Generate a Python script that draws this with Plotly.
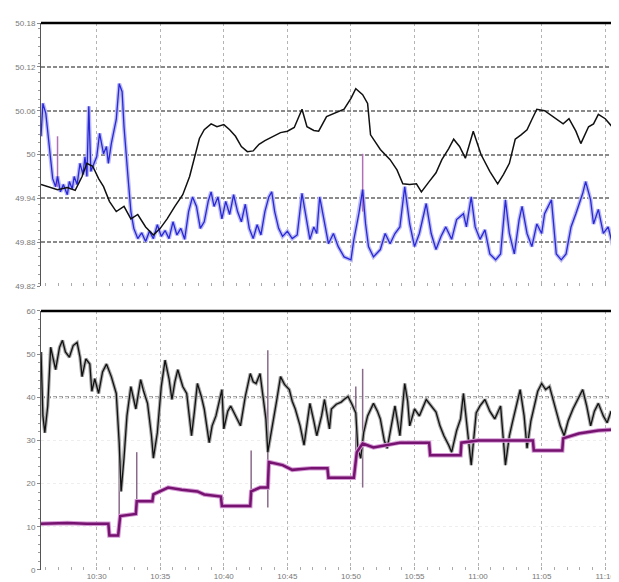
import plotly.graph_objects as go
import pandas as pd

# ---------------- data (minutes after 10:00, values) ----------------
top_black_t = [25.62, 26.15, 26.92, 27.69, 28.31, 28.85, 29.23, 29.69, 30.15, 30.54, 31.00, 31.54, 32.15, 32.69,
               33.23, 33.85, 34.46, 35.00, 35.54, 36.15, 36.77, 37.31, 37.69, 38.08, 38.46, 39.00, 39.46, 40.00,
               40.46, 40.92, 41.38, 41.85, 42.31, 42.77, 43.23, 43.85, 44.46, 45.00, 45.54, 46.15, 46.54, 47.08,
               47.46, 48.08, 48.69, 49.46, 50.00, 50.38, 50.92, 51.31, 51.54, 52.31, 53.08, 53.62, 54.08, 54.62,
               55.15, 55.54, 56.15, 56.69, 57.15, 57.69, 58.08, 58.54, 59.00, 59.62, 60.23, 60.92, 61.54, 62.00,
               62.46, 62.92, 63.38, 63.85, 64.23, 64.62, 65.23, 65.92, 66.31, 66.69, 67.15, 67.69, 68.08, 68.69,
               69.08, 69.46, 70.00, 70.54, 70.69]
top_black_v = [49.959, 49.956, 49.952, 49.955, 49.951, 49.970, 49.988, 49.984, 49.967, 49.956, 49.936, 49.922,
               49.929, 49.912, 49.918, 49.901, 49.890, 49.899, 49.912, 49.929, 49.945, 49.970, 49.997, 50.022,
               50.034, 50.042, 50.038, 50.041, 50.034, 50.025, 50.011, 50.004, 50.005, 50.014, 50.019, 50.025,
               50.030, 50.032, 50.037, 50.062, 50.038, 50.033, 50.032, 50.052, 50.056, 50.062, 50.077, 50.090,
               50.082, 50.070, 50.027, 50.007, 49.993, 49.979, 49.960, 49.959, 49.960, 49.949, 49.963, 49.975,
               49.993, 50.008, 50.021, 50.011, 49.995, 50.032, 50.000, 49.977, 49.960, 49.973, 49.988, 50.021,
               50.027, 50.034, 50.048, 50.062, 50.060, 50.052, 50.047, 50.042, 50.049, 50.032, 50.015, 50.038,
               50.042, 50.055, 50.049, 50.038, 50.042]

top_blue_t = [25.62, 25.77, 26.00, 26.15, 26.31, 26.54, 26.77, 26.92, 27.15, 27.38, 27.69, 27.85, 28.08, 28.23,
              28.46, 28.69, 28.92, 29.08, 29.23, 29.38, 29.54, 29.77, 30.00, 30.23, 30.54, 30.77, 30.92, 31.15,
              31.38, 31.54, 31.77, 32.00, 32.15, 32.31, 32.46, 32.69, 32.92, 33.23, 33.54, 33.85, 34.15, 34.46,
              34.77, 35.08, 35.38, 35.69, 36.00, 36.31, 36.62, 36.92, 37.23, 37.54, 37.85, 38.15, 38.46, 38.77,
              39.00, 39.23, 39.54, 39.85, 40.15, 40.46, 40.77, 41.08, 41.38, 41.69, 42.00, 42.31, 42.62, 42.92,
              43.23, 43.54, 43.77, 44.00, 44.31, 44.62, 45.00, 45.38, 45.77, 46.15, 46.38, 46.77, 47.08, 47.31,
              47.54, 47.85, 48.23, 48.62, 49.00, 49.46, 50.00, 50.23, 50.62, 50.92, 51.15, 51.38, 51.77, 52.31,
              52.69, 53.08, 53.46, 53.85, 54.23, 54.62, 55.00, 55.38, 55.92, 56.31, 56.69, 57.08, 57.46, 57.92,
              58.31, 58.85, 59.08, 59.46, 59.77, 60.15, 60.54, 60.92, 61.38, 61.77, 62.15, 62.46, 62.85, 63.23,
              63.46, 63.85, 64.23, 64.62, 65.00, 65.23, 65.77, 66.15, 66.54, 66.92, 67.31, 67.69, 68.23, 68.46,
              68.85, 69.08, 69.46, 69.85, 70.23, 70.62, 70.69]
top_blue_v = [50.025, 50.070, 50.056, 50.032, 50.007, 49.967, 49.956, 49.970, 49.949, 49.959, 49.945, 49.963,
              49.953, 49.970, 49.959, 49.988, 49.973, 49.997, 49.970, 50.066, 49.977, 49.986, 49.997, 50.029,
              50.001, 50.011, 49.988, 50.015, 50.032, 50.048, 50.097, 50.086, 50.038, 49.997, 49.970, 49.922,
              49.899, 49.885, 49.893, 49.881, 49.895, 49.885, 49.904, 49.888, 49.896, 49.885, 49.908, 49.890,
              49.899, 49.884, 49.922, 49.942, 49.929, 49.899, 49.908, 49.936, 49.949, 49.929, 49.942, 49.912,
              49.936, 49.918, 49.945, 49.922, 49.908, 49.932, 49.899, 49.885, 49.904, 49.890, 49.922, 49.942,
              49.949, 49.922, 49.899, 49.888, 49.895, 49.885, 49.890, 49.947, 49.925, 49.884, 49.901, 49.892,
              49.942, 49.911, 49.878, 49.892, 49.874, 49.860, 49.856, 49.884, 49.919, 49.952, 49.905, 49.874,
              49.860, 49.870, 49.892, 49.878, 49.892, 49.901, 49.956, 49.905, 49.874, 49.892, 49.933, 49.892,
              49.870, 49.888, 49.901, 49.884, 49.911, 49.919, 49.901, 49.942, 49.901, 49.884, 49.897, 49.864,
              49.856, 49.864, 49.938, 49.892, 49.864, 49.911, 49.929, 49.892, 49.874, 49.905, 49.892, 49.919,
              49.938, 49.864, 49.856, 49.864, 49.901, 49.919, 49.947, 49.963, 49.938, 49.905, 49.925, 49.892,
              49.901, 49.874, 49.884]

top_spike_t = [26.92, 26.92, None, 50.92, 50.92]
top_spike_v = [49.956, 50.025, None, 49.922, 50.001]

bot_black_t = [25.62, 25.77, 25.92, 26.15, 26.38, 26.62, 26.77, 27.08, 27.31, 27.54, 27.85, 28.15, 28.46, 28.69,
               28.85, 29.15, 29.46, 29.62, 29.85, 30.15, 30.46, 30.77, 31.15, 31.54, 31.77, 31.92, 32.15, 32.38,
               32.69, 33.08, 33.46, 33.69, 34.00, 34.31, 34.46, 34.77, 35.08, 35.38, 35.69, 35.92, 36.15, 36.38,
               36.77, 37.08, 37.46, 37.69, 37.92, 38.23, 38.46, 38.85, 39.08, 39.38, 39.85, 40.00, 40.31, 40.54,
               40.92, 41.31, 41.69, 42.08, 42.31, 42.54, 42.85, 43.08, 43.31, 43.46, 43.69, 43.85, 44.15, 44.46,
               44.77, 45.15, 45.38, 45.62, 46.00, 46.31, 46.54, 46.77, 47.08, 47.31, 47.69, 47.92, 48.31, 48.46,
               48.85, 49.23, 49.46, 49.77, 50.08, 50.38, 50.54, 50.77, 51.00, 51.31, 51.77, 52.08, 52.31, 52.62,
               52.85, 53.15, 53.46, 53.85, 54.23, 54.46, 54.62, 55.00, 55.38, 55.92, 56.31, 56.69, 57.00, 57.31,
               57.69, 57.92, 58.31, 58.62, 58.85, 59.23, 59.46, 59.85, 60.15, 60.54, 60.92, 61.31, 61.77, 62.15,
               62.46, 62.69, 63.08, 63.31, 63.62, 63.85, 64.15, 64.38, 64.69, 65.00, 65.31, 65.62, 65.92, 66.15,
               66.46, 66.77, 67.08, 67.46, 67.85, 68.23, 68.54, 68.85, 69.15, 69.46, 69.85, 70.15, 70.46, 70.69]
bot_black_v = [50.5, 35.7, 31.8, 38.0, 51.6, 48.2, 46.4, 51.6, 53.2, 50.5, 49.3, 52.0, 52.7, 49.3,
               44.8, 48.9, 47.7, 41.4, 44.3, 40.9, 45.9, 47.7, 44.8, 40.9, 29.5, 18.2, 25.9, 35.7,
               42.5, 37.3, 44.1, 41.4, 38.6, 31.1, 25.9, 31.8, 42.5, 48.6, 44.3, 39.5, 43.6, 46.4,
               42.5, 40.9, 31.1, 36.8, 43.2, 40.2, 37.3, 29.5, 33.4, 35.7, 41.8, 32.7, 36.8, 38.0,
               35.7, 33.4, 40.2, 45.5, 43.6, 43.2, 45.5, 40.2, 35.0, 27.3, 31.1, 33.4, 39.1, 44.8,
               43.0, 41.8, 39.1, 37.3, 33.4, 28.9, 33.4, 38.6, 34.5, 31.1, 35.7, 39.5, 32.7, 37.3,
               38.4, 38.9, 39.5, 40.2, 38.4, 36.4, 28.2, 25.9, 31.8, 35.7, 38.6, 36.8, 35.0, 30.0,
               28.2, 33.4, 38.0, 31.1, 43.2, 39.1, 33.4, 37.3, 35.7, 39.5, 38.0, 36.6, 33.4, 31.1,
               28.9, 27.3, 32.3, 35.0, 40.9, 31.1, 24.3, 36.4, 38.0, 39.5, 36.8, 35.0, 38.0, 24.3,
               31.1, 34.1, 39.1, 41.8, 35.7, 28.2, 34.5, 37.3, 41.4, 43.2, 41.8, 42.5, 39.1, 36.4,
               33.4, 31.1, 34.5, 37.3, 39.5, 41.8, 38.0, 33.4, 36.8, 38.6, 35.7, 34.1, 36.8, 35.7]

bot_purple_t = [25.62, 27.69, 29.23, 30.92, 31.00, 31.69, 31.85, 33.08, 33.15, 34.38, 34.46, 35.62, 36.69,
                37.92, 38.46, 39.77, 39.85, 42.08, 42.15, 42.85, 43.46, 43.54, 44.62, 45.38, 46.92, 48.15,
                48.23, 50.23, 50.46, 50.92, 51.77, 52.85, 53.85, 56.15, 56.23, 58.62, 58.69, 60.00, 64.31,
                64.38, 66.62, 66.69, 67.92, 69.46, 70.69]
bot_purple_v = [10.7, 10.9, 10.7, 10.7, 8.0, 8.0, 12.5, 13.0, 15.9, 15.9, 17.5, 19.1, 18.6,
                18.2, 17.5, 17.0, 14.8, 14.8, 18.2, 19.1, 19.1, 25.0, 24.3, 23.2, 23.6, 23.6,
                21.4, 21.4, 27.3, 29.3, 28.4, 28.9, 29.5, 29.5, 26.6, 26.6, 29.5, 30.0, 30.0,
                27.7, 27.7, 30.5, 31.6, 32.3, 32.5]

bot_spike_t = [31.77, 31.77, None, 33.15, 33.15, None, 42.15, 42.15, None, 43.46, 43.46, None,
               50.38, 50.38, None, 50.92, 50.92]
bot_spike_v = [7.7, 33.2, None, 15.9, 27.3, None, 18.2, 27.7, None, 14.5, 50.9, None,
               24.3, 42.5, None, 19.1, 46.6]

top_ticks = [49.82, 49.88, 49.94, 50.0, 50.06, 50.12, 50.18]
top_tick_text = ["49.82", "49.88", "49.94", "50", "50.06", "50.12", "50.18"]
bot_ticks = [0, 10, 20, 30, 40, 50, 60]
bot_tick_text = ["0", "10", "20", "30", "40", "50", "60"]
x_start, x_end = 25.62, 70.69

# ---------------- helpers ----------------
base = pd.Timestamp("2024-01-01 10:00:00")


def tt(mins):
    return [None if m is None else base + pd.Timedelta(minutes=m) for m in mins]


fig = go.Figure()

# top panel
fig.add_trace(go.Scatter(x=tt(top_blue_t), y=top_blue_v, mode="lines",
                         line=dict(color="#bcbcf2", width=4), xaxis="x", yaxis="y", hoverinfo="skip"))
fig.add_trace(go.Scatter(x=tt(top_spike_t), y=top_spike_v, mode="lines",
                         line=dict(color="#b070b8", width=1.5), xaxis="x", yaxis="y", connectgaps=False))
fig.add_trace(go.Scatter(x=tt(top_blue_t), y=top_blue_v, mode="lines",
                         line=dict(color="#2828d8", width=1.3), xaxis="x", yaxis="y"))
fig.add_trace(go.Scatter(x=tt(top_black_t), y=top_black_v, mode="lines",
                         line=dict(color="#111111", width=1.5), xaxis="x", yaxis="y"))

# bottom panel
fig.add_trace(go.Scatter(x=tt(bot_spike_t), y=bot_spike_v, mode="lines",
                         line=dict(color="#8a6a8a", width=1.5), xaxis="x2", yaxis="y2", connectgaps=False))
fig.add_trace(go.Scatter(x=tt(bot_black_t), y=bot_black_v, mode="lines",
                         line=dict(color="#a8a8a8", width=3.5), xaxis="x2", yaxis="y2", hoverinfo="skip"))
fig.add_trace(go.Scatter(x=tt(bot_black_t), y=bot_black_v, mode="lines",
                         line=dict(color="#111111", width=1.3), xaxis="x2", yaxis="y2"))
fig.add_trace(go.Scatter(x=tt(bot_purple_t), y=bot_purple_v, mode="lines",
                         line=dict(color="#d59ad5", width=4.5), xaxis="x2", yaxis="y2", hoverinfo="skip"))
fig.add_trace(go.Scatter(x=tt(bot_purple_t), y=bot_purple_v, mode="lines",
                         line=dict(color="#76126f", width=2.5), xaxis="x2", yaxis="y2"))

xr = [base + pd.Timedelta(minutes=x_start), base + pd.Timedelta(minutes=x_end)]
tick0 = base + pd.Timedelta(minutes=30)
tickfont = dict(family="Liberation Sans, Arial", size=8, color="#777777")

xcommon = dict(type="date", range=xr, tick0=tick0, dtick=300000, tickformat="%H:%M",
               showgrid=True, gridcolor="#b4b4b4", griddash="3px,3px", gridwidth=1.3,
               zeroline=False, showline=False, ticks="inside", ticklen=3, tickcolor="#aaaaaa",
               minor=dict(dtick=60000, ticks="inside", ticklen=3, tickcolor="#aaaaaa", showgrid=False),
               tickfont=tickfont, ticklabeloverflow="allow", automargin=False)

fig.update_layout(
    width=619, height=582,
    margin=dict(l=33, r=13, t=15, b=20),
    paper_bgcolor="white", plot_bgcolor="white",
    showlegend=False,
    xaxis=dict(**xcommon, domain=[0, 1], anchor="y", showticklabels=False),
    yaxis=dict(domain=[0.519, 1.0], range=[49.82, 50.18], tickvals=top_ticks, ticktext=top_tick_text,
               showgrid=True, gridcolor="#8a8a8a", griddash="4px,2px", gridwidth=2, zeroline=False,
               showline=True, linecolor="#555555", linewidth=1, ticks="outside", ticklen=3,
               tickcolor="#888888", minor=dict(dtick=0.012, ticks="outside", ticklen=2, tickcolor="#999999"),
               tickfont=tickfont, automargin=False),
    xaxis2=dict(**xcommon, domain=[0, 1], anchor="y2"),
    yaxis2=dict(domain=[0.0, 0.4735], range=[0, 60], tickvals=bot_ticks, ticktext=bot_tick_text,
                showgrid=True, gridcolor="#eeeeee", griddash="dot", gridwidth=1, zeroline=False,
                showline=True, linecolor="#555555", linewidth=1, ticks="outside", ticklen=3,
                tickcolor="#888888", minor=dict(dtick=2, ticks="outside", ticklen=2, tickcolor="#999999"),
                tickfont=tickfont, automargin=False),
)

# top borders and the 40 line
fig.add_shape(type="line", xref="paper", yref="y domain", x0=0, x1=1, y0=1, y1=1,
              line=dict(color="black", width=2.5))
fig.add_shape(type="line", xref="paper", yref="y2 domain", x0=0, x1=1, y0=1, y1=1,
              line=dict(color="black", width=2.5))
fig.add_shape(type="line", xref="paper", yref="y2", x0=0, x1=1, y0=40, y1=40,
              line=dict(color="#8a8a8a", width=2, dash="4px,2px"), layer="below")

fig.write_html("out.html")
